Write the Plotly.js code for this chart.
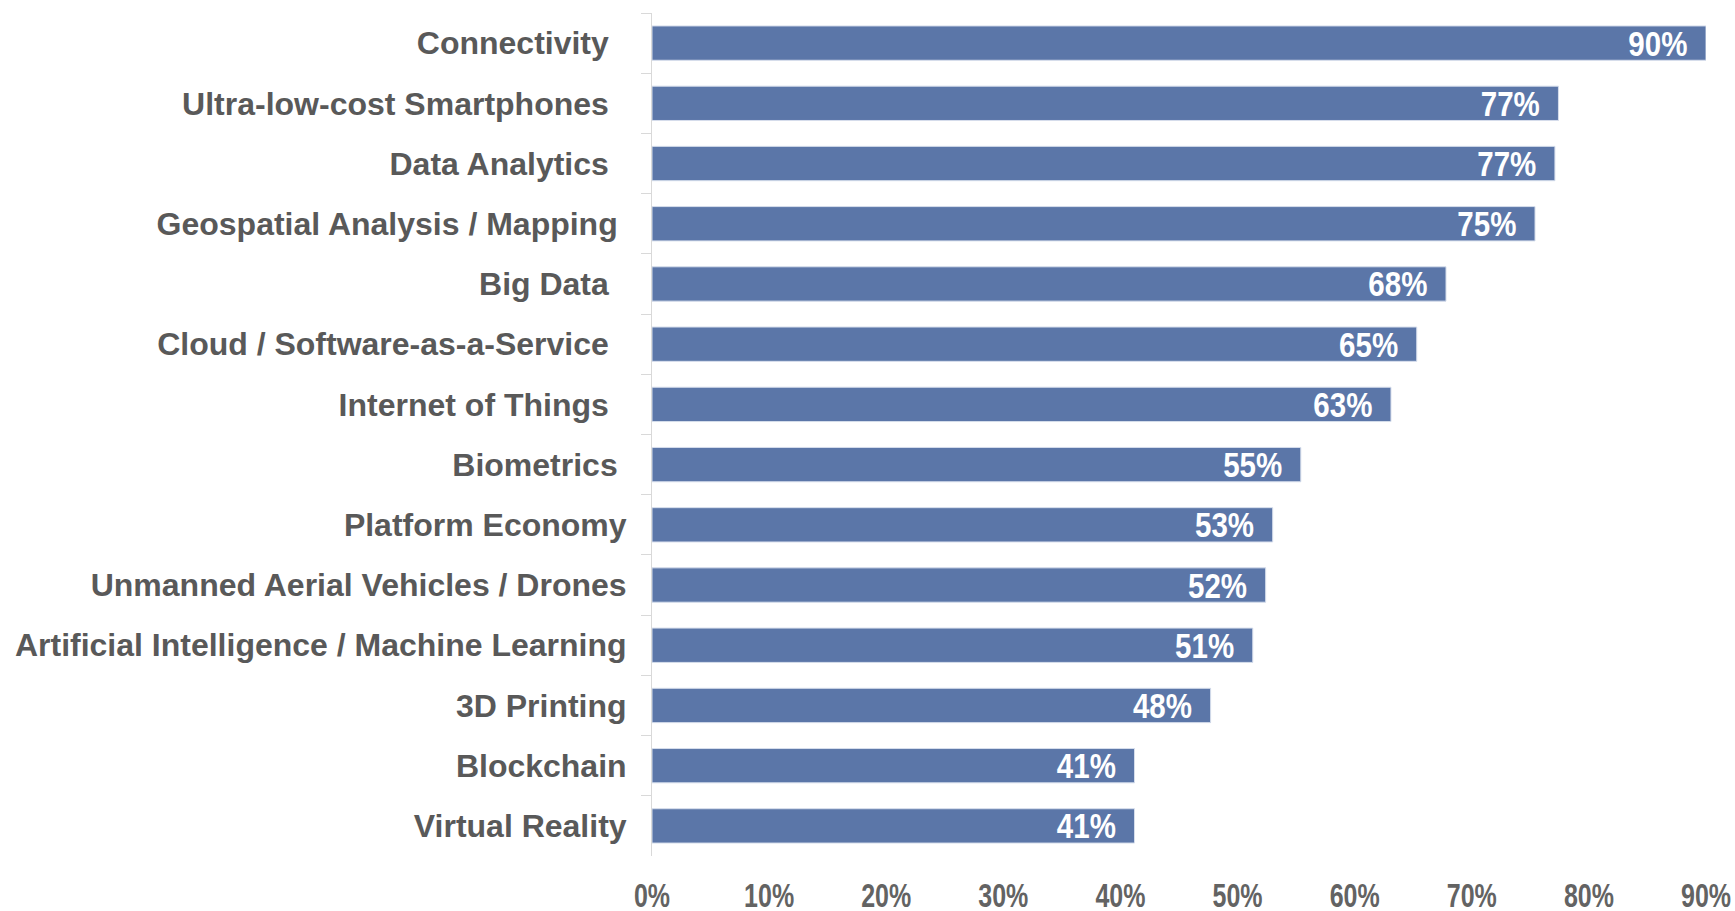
<!DOCTYPE html>
<html>
<head>
<meta charset="utf-8">
<script src="https://cdn.plot.ly/plotly-3.0.1.min.js"></script>
<style>html,body{margin:0;padding:0;background:#fff;}#chart{width:1735px;height:911px;}</style>
</head>
<body>
<div id="chart"></div>
<script>
// Categories (top to bottom); trailing non-breaking spaces mimic the source label padding
const categories = [
  "Connectivity\u00a0\u00a0",
  "Ultra-low-cost Smartphones\u00a0\u00a0",
  "Data Analytics\u00a0\u00a0",
  "Geospatial Analysis / Mapping\u00a0",
  "Big Data\u00a0\u00a0",
  "Cloud / Software-as-a-Service\u00a0\u00a0",
  "Internet of Things\u00a0\u00a0",
  "Biometrics\u00a0",
  "Platform Economy",
  "Unmanned Aerial Vehicles / Drones",
  "Artificial Intelligence / Machine Learning",
  "3D Printing",
  "Blockchain",
  "Virtual Reality"
];
const values = [90, 77.4, 77.1, 75.4, 67.8, 65.3, 63.1, 55.4, 53.0, 52.4, 51.3, 47.7, 41.2, 41.2];
const xTickVals = [0, 10, 20, 30, 40, 50, 60, 70, 80, 90];
const xTickText = ["0%", "10%", "20%", "30%", "40%", "50%", "60%", "70%", "80%", "90%"];

const sans = "'Liberation Sans', Arial, sans-serif";

const trace = {
  type: "bar",
  orientation: "h",
  y: categories,
  x: values,
  marker: { color: "#5b76a8", line: { color: "#d6deec", width: 1 } },
  texttemplate: "%{x:.0f}%\u00a0",
  textposition: "inside",
  insidetextanchor: "end",
  constraintext: "none",
  textfont: { family: sans, size: 36, color: "#ffffff", weight: "bold" },
  hoverinfo: "none"
};

const layout = {
  width: 1735,
  height: 911,
  margin: { l: 652, r: 29, t: 13, b: 55 },
  paper_bgcolor: "#ffffff",
  plot_bgcolor: "#ffffff",
  showlegend: false,
  bargap: 0.43,
  xaxis: {
    range: [0, 90],
    tickvals: xTickVals,
    ticktext: xTickText,
    showgrid: false,
    zeroline: false,
    showline: false,
    ticks: "",
    ticklabelstandoff: 16,
    ticklabeloverflow: "allow",
    tickfont: { family: sans, size: 34, color: "#636363", weight: "bold" },
    fixedrange: true
  },
  yaxis: {
    type: "category",
    autorange: "reversed",
    showgrid: false,
    zeroline: false,
    showline: true,
    linecolor: "#d9d9d9",
    linewidth: 1,
    ticks: "outside",
    tickson: "boundaries",
    ticklen: 10,
    tickcolor: "#d9d9d9",
    tickwidth: 1,
    ticklabelstandoff: 18,
    tickfont: { family: sans, size: 32, color: "#595959", weight: "bold" },
    fixedrange: true
  }
};

// Horizontally condense text (the source uses a narrow bold face)
function squeeze(selector, k, dy) {
  document.querySelectorAll(selector).forEach(function (t) {
    const x = parseFloat(t.getAttribute("x")) || 0;
    const prev = t.getAttribute("transform") || "";
    t.setAttribute("transform",
      prev + " translate(" + x + "," + (dy || 0) + ") scale(" + k + ",1) translate(" + (-x) + ",0)");
  });
}

Plotly.newPlot("chart", [trace], layout, { staticPlot: true, displayModeBar: false }).then(function () {
  squeeze("#chart .bartext", 0.82, 0);
  squeeze("#chart .xtick text", 0.735, 0);
});
</script>
</body>
</html>
